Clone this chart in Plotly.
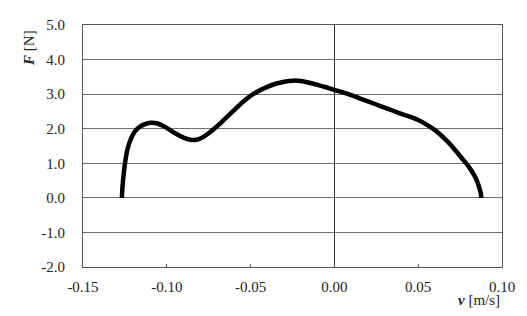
import plotly.graph_objects as go

v = [-0.1268, -0.1266, -0.1262, -0.1256, -0.1248, -0.1235, -0.1215, -0.1190, -0.1160,
     -0.1130, -0.1100, -0.1060, -0.1020, -0.0980, -0.0940, -0.0900, -0.0860, -0.0825,
     -0.0790, -0.0750, -0.0700, -0.0650, -0.0600, -0.0550, -0.0500, -0.0450, -0.0400,
     -0.0350, -0.0300, -0.0250, -0.0200, -0.0150, -0.0100, -0.0050, 0.0000, 0.0050,
     0.0100, 0.0150, 0.0200, 0.0250, 0.0300, 0.0350, 0.0400, 0.0450, 0.0500, 0.0550,
     0.0600, 0.0650, 0.0700, 0.0740, 0.0770, 0.0795, 0.0820, 0.0840, 0.0855, 0.0866,
     0.0874, 0.0876]
F = [0.00, 0.20, 0.45, 0.75, 1.05, 1.40, 1.70, 1.92, 2.06,
     2.13, 2.17, 2.16, 2.08, 1.96, 1.84, 1.74, 1.68, 1.68,
     1.74, 1.87, 2.07, 2.30, 2.53, 2.76, 2.95, 3.10, 3.21,
     3.30, 3.36, 3.39, 3.38, 3.33, 3.27, 3.20, 3.12, 3.05,
     2.97, 2.88, 2.79, 2.70, 2.61, 2.52, 2.43, 2.35, 2.25, 2.12,
     1.96, 1.75, 1.50, 1.27, 1.09, 0.95, 0.77, 0.60, 0.43, 0.27,
     0.12, 0.00]

x_ticks = [-0.15, -0.10, -0.05, 0.00, 0.05, 0.10]
x_labels = ["-0.15", "-0.10", "-0.05", "0.00", "0.05", "0.10"]
y_ticks = [-2.0, -1.0, 0.0, 1.0, 2.0, 3.0, 4.0, 5.0]
y_labels = ["-2.0", "-1.0", "0.0", "1.0", "2.0", "3.0", "4.0", "5.0"]

SERIF = "'Times New Roman', 'Liberation Serif', 'DejaVu Serif', serif"
font = dict(family=SERIF, size=15, color="#222")

fig = go.Figure()
fig.add_trace(go.Scatter(x=v, y=F, mode="lines",
                         line=dict(color="black", width=4.5, shape="spline", smoothing=0.8),
                         showlegend=False))

fig.update_layout(
    width=527, height=316,
    margin=dict(l=83, r=17, t=25, b=49),
    paper_bgcolor="white", plot_bgcolor="white",
    font=font,
    xaxis=dict(range=[-0.15, 0.10], tickvals=x_ticks, ticktext=x_labels,
               showgrid=False, zeroline=True, zerolinecolor="#333", zerolinewidth=1,
               showline=True, linecolor="#555", linewidth=1, mirror=True,
               ticks="inside", ticklen=3, tickcolor="#555",
               ticklabelstandoff=6, tickfont=font),
    yaxis=dict(range=[-2.0, 5.0], tickvals=y_ticks, ticktext=y_labels,
               showgrid=True, gridcolor="#6e6e6e", gridwidth=1,
               zeroline=False,
               showline=True, linecolor="#555", linewidth=1, mirror=True,
               ticks="", ticklabelstandoff=14, tickfont=font),
    annotations=[
        dict(text="<b><i>F</i></b> [N]", xref="paper", yref="paper",
             x=-0.129, y=0.905, xanchor="center", yanchor="middle",
             textangle=-90, showarrow=False, font=font),
        dict(text="<b><i>v</i></b> [m/s]", xref="paper", yref="paper",
             x=0.945, y=-0.138, xanchor="center", yanchor="middle",
             showarrow=False, font=font),
    ],
)

fig.write_html("out.html")
